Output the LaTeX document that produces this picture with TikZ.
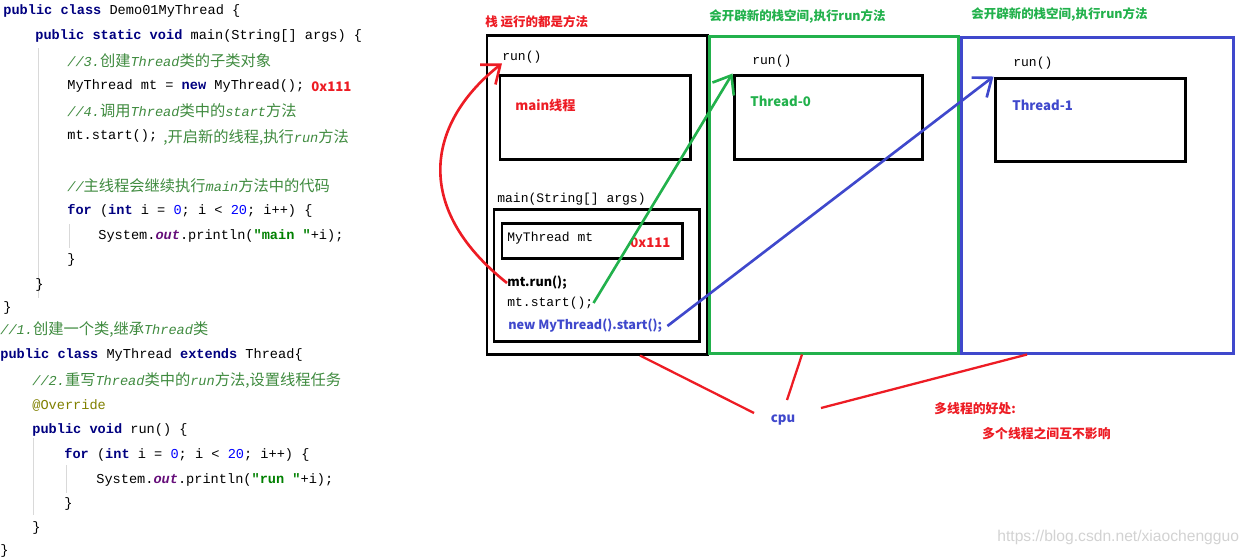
\documentclass[tikz,border=0pt]{standalone}
\usepackage{fontspec}
\usepackage{xcolor}
\usetikzlibrary{fit,arrows.meta}
\setmonofont{Liberation Mono}
\newfontfamily\cjk{Noto Sans CJK SC}
\newfontfamily\zhcode[Scale=1.12]{Noto Sans CJK SC}
\newfontfamily\wmfont{Liberation Sans}
\definecolor{pred}{RGB}{237,28,36}
\definecolor{pgreen}{RGB}{34,177,76}
\definecolor{pblue}{RGB}{63,72,204}
\definecolor{kwblue}{RGB}{0,0,128}
\definecolor{cmtgreen}{RGB}{62,138,62}
\definecolor{numblue}{RGB}{0,0,255}
\definecolor{strgreen}{RGB}{0,128,0}
\definecolor{fldpurple}{RGB}{102,14,122}
\definecolor{annoolive}{RGB}{128,128,0}
\newcommand\zc[1]{{\zhcode\upshape #1}}
\newcommand\kw[1]{\textcolor{kwblue}{\bfseries #1}}
\newcommand\cmt[1]{\textcolor{cmtgreen}{\itshape #1}}
\newcommand\nm[1]{\textcolor{numblue}{#1}}
\newcommand\strg[1]{\textcolor{strgreen}{\bfseries #1}}
\newcommand\fld[1]{\textcolor{fldpurple}{\bfseries\itshape #1}}
\newcommand\anno[1]{\textcolor{annoolive}{#1}}

\begin{document}
\begin{tikzpicture}[x=0.02cm, y=-0.02cm,
		codeline/.style={anchor=west, inner sep=0pt, font=\fontsize{7.75}{9}\selectfont\ttfamily},
		monotext/.style={anchor=west, inner sep=0pt, font=\fontsize{7.4}{9}\selectfont\ttfamily},
		boldtag/.style={anchor=west, inner sep=0pt, font=\fontsize{7.5}{9}\selectfont\cjk\bfseries},
		smalltag/.style={boldtag, font=\fontsize{7.2}{9}\selectfont\cjk\bfseries},
		stacktitle/.style={anchor=west, inner sep=0pt, font=\fontsize{7.1}{9}\selectfont\cjk\bfseries},
		stackbox/.style={draw, line width=1.7pt, inner sep=0pt},
		callarrow/.style={line width=1.5pt, -{Straight Barb[length=0.32cm,width=0.5cm]}},
		cpuline/.style={pred, line width=1.3pt},
		guide/.style={gray!30, line width=0.5pt}]
	\useasboundingbox (0,0) rectangle (1251,556);

	% code
	\draw[guide] (38,48) -- (38,298);
	\draw[guide] (69,224) -- (69,248);
	\draw[guide] (33,438) -- (33,515);
	\draw[guide] (66,465) -- (66,493);
	\node[codeline] (c1)at(3,11) {\kw{public} \kw{class} Demo01MyThread \{};
	\node[codeline] (c2)at(35,36) {\kw{public} \kw{static} \kw{void} main(String[] args) \{};
	\node[codeline] (c3)at(67,61) {\cmt{//3.\zc{创建}Thread\zc{类的子类对象}}};
	\node[codeline] (c4)at(67,86) {MyThread mt = \kw{new} MyThread();};
	\node[boldtag, text=pred] (hexA)at(311,87) {0x111};
	\node[codeline] (c5)at(67,111) {\cmt{//4.\zc{调用}Thread\zc{类中的}start\zc{方法}}};
	\node[codeline] (c6)at(67,136) {mt.start();};
	\node[codeline] (note)at(163,137) {\cmt{\zc{,开启新的线程,执行}run\zc{方法}}};
	\node[codeline] (c7)at(67,186) {\cmt{//\zc{主线程会继续执行}main\zc{方法中的代码}}};
	\node[codeline] (c8)at(67,211) {\kw{for} (\kw{int} i = \nm{0}; i < \nm{20}; i++) \{};
	\node[codeline] (c9)at(98,236) {System.\fld{out}.println(\strg{"main "}+i);};
	\node[codeline] (c10)at(67,260) {\}};
	\node[codeline] (c11)at(35,285) {\}};
	\node[codeline] (c12)at(3,308) {\}};
	\node[codeline] (c13)at(0,330) {\cmt{//1.\zc{创建一个类,继承}Thread\zc{类}}};
	\node[codeline] (c14)at(0,355) {\kw{public} \kw{class} MyThread \kw{extends} Thread\{};
	\node[codeline] (c15)at(32,380) {\cmt{//2.\zc{重写}Thread\zc{类中的}run\zc{方法,设置线程任务}}};
	\node[codeline] (c16)at(32,405) {\anno{@Override}};
	\node[codeline] (c17)at(32,430) {\kw{public} \kw{void} run() \{};
	\node[codeline] (c18)at(64,455) {\kw{for} (\kw{int} i = \nm{0}; i < \nm{20}; i++) \{};
	\node[codeline] (c19)at(96,480) {System.\fld{out}.println(\strg{"run "}+i);};
	\node[codeline] (c20)at(64,504) {\}};
	\node[codeline] (c21)at(32,528) {\}};
	\node[codeline] (c22)at(0,551) {\}};

	% main stack
	\node[stacktitle, text=pred] (mainT)at(485,22) {栈 运行的都是方法};
	\node[stackbox, fit={(487,35) (707,354)}] (mainstack) {};
	\node[monotext] (runA)at(502,57) {run()};
	\node[stackbox, fit={(500,75) (690,159)}] (mainbox) {};
	\node[boldtag, text=pred] (mainthr)at(515,105) {main线程};
	\node[monotext] (mainsig)at(497,199) {main(String[] args)};
	\node[stackbox, fit={(494,209) (699,341)}] (mainframe) {};
	\node[stackbox, fit={(502,223) (682,258)}] (mtbox) {};
	\node[monotext] (mtvar)at(507,238) {MyThread mt};
	\node[boldtag, text=pred] (hexB)at(630,243) {0x111};
	\node[smalltag] (mtrun)at(507,283) {mt.run();};
	\node[monotext] (mtstart)at(507,303) {mt.start();};
	\node[smalltag, text=pblue] (newstart)at(508,326) {new MyThread().start();};

	% thread-0 stack
	\node[stacktitle, text=pgreen] (greenT)at(709,16) {会开辟新的栈空间,执行run方法};
	\node[stackbox, draw=pgreen, fit={(709,36) (958,353)}] (greenstack) {};
	\node[monotext] (runB)at(752,61) {run()};
	\node[stackbox, fit={(734,75) (922,159)}] (t0box) {};
	\node[boldtag, text=pgreen] (t0)at(750,101) {Thread-0};

	% thread-1 stack
	\node[stacktitle, text=pgreen] (blueT)at(971,14) {会开辟新的栈空间,执行run方法};
	\node[stackbox, draw=pblue, fit={(961,37) (1233,353)}] (bluestack) {};
	\node[monotext] (runC)at(1013,63) {run()};
	\node[stackbox, fit={(995,78) (1185,161)}] (t1box) {};
	\node[boldtag, text=pblue] (t1)at(1012,105) {Thread-1};

	\draw[callarrow, pred] (mtrun.west) .. controls (409,205) and (430,120) .. (runA.south west);
	\draw[callarrow, pgreen] (mtstart.east) -- (t0box.north west);
	\draw[callarrow, pblue] ([xshift=0.1cm]newstart.east) -- (t1box.north west);

	% cpu
	\node[boldtag, text=pblue, anchor=center] (cpu)at(783,420) {cpu};
	\coordinate (cpuL) at (754,413);
	\coordinate (cpuM) at (787,400);
	\coordinate (cpuR) at (821,408);
	\draw[cpuline] (cpuL) -- ([xshift=0.86cm]mainstack.south);
	\draw[cpuline] (cpuM) -- ([xshift=-0.63cm]greenstack.south);
	\draw[cpuline] (cpuR) -- ([xshift=-1.4cm]bluestack.south);

	\node[stacktitle, text=pred, font=\fontsize{7.3}{9}\selectfont\cjk\bfseries] (gainA)at(934,409) {多线程的好处:};
	\node[stacktitle, text=pred, font=\fontsize{7.3}{9}\selectfont\cjk\bfseries] (gainB)at(982,434) {多个线程之间互不影响};
	\node[anchor=west, inner sep=0pt, text=gray!35, font=\fontsize{8.9}{10}\selectfont\wmfont] (mark)at(997,537) {https://blog.csdn.net/xiaochengguo};
\end{tikzpicture}
\end{document}
